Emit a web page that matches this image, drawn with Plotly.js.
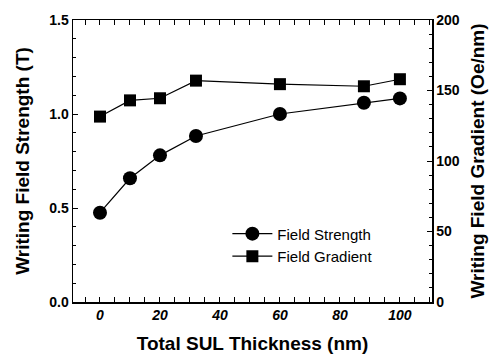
<!DOCTYPE html>
<html><head><meta charset="utf-8">
<script src="https://cdn.plot.ly/plotly-3.0.1.min.js"></script>
<style>body{margin:0;background:#fff}#c{width:492px;height:363px}</style>
</head><body><div id="c"></div>
<script>
const thickness = [0, 10, 20, 32, 60, 88, 100];
const fieldStrength = [0.475, 0.658, 0.78, 0.883, 1.0, 1.06, 1.083];
const gradThickness = [0, 10, 20, 32, 60, 88, 100];
const fieldGradient = [131.5, 143, 144.5, 157, 154.5, 153, 158];
const xTicks = [0, 20, 40, 60, 80, 100];
const yTicks = [0.0, 0.5, 1.0, 1.5];
const yTickLabels = ['0.0', '0.5', '1.0', '1.5'];
const y2Ticks = [0, 50, 100, 150, 200];

const F = 'Liberation Sans, Arial, sans-serif';
const data = [
  {x: thickness, y: fieldStrength, name: 'Field Strength', type: 'scatter', mode: 'lines+markers',
   line: {color: '#000', width: 1.2}, marker: {symbol: 'circle', size: 14, color: '#000'}},
  {x: gradThickness, y: fieldGradient, name: 'Field Gradient', type: 'scatter', mode: 'lines+markers', yaxis: 'y2',
   line: {color: '#000', width: 1.2}, marker: {symbol: 'square', size: 12, color: '#000'}}
];
const layout = {
  width: 492, height: 363,
  margin: {l: 73, r: 60, t: 20, b: 61},
  paper_bgcolor: '#fff', plot_bgcolor: '#fff',
  showlegend: true,
  legend: {x: 0.43, y: 0.30, xanchor: 'left', yanchor: 'top', bgcolor: 'rgba(0,0,0,0)',
           font: {family: F, size: 15, color: '#000'}, tracegroupgap: 0, itemwidth: 40},
  xaxis: {range: [-9, 110.7], tickvals: xTicks, ticktext: xTicks.map(String),
          ticks: 'inside', ticklen: 5, tickwidth: 1, tickcolor: '#000',
          minor: {dtick: 5, tick0: 0, ticks: 'inside', ticklen: 3, tickcolor: '#000'},
          showline: true, linecolor: '#000', linewidth: 1.5, mirror: 'allticks',
          showgrid: false, zeroline: false,
          tickfont: {family: F, size: 14, color: '#000', weight: 'bold', style: 'italic'},
          title: {text: 'Total SUL Thickness (nm)', font: {family: F, size: 19, color: '#000', weight: 'bold'}, standoff: 14}},
  yaxis: {range: [0, 1.5], tickvals: yTicks, ticktext: yTickLabels,
          ticks: 'inside', ticklen: 5, tickwidth: 1, tickcolor: '#000',
          minor: {dtick: 0.1, ticks: 'inside', ticklen: 3, tickcolor: '#000'},
          showline: true, linecolor: '#000', linewidth: 1.5, mirror: false,
          showgrid: false, zeroline: false,
          tickfont: {family: F, size: 14, color: '#000', weight: 'bold'},
          title: {text: 'Writing Field Strength (T)', font: {family: F, size: 19, color: '#000', weight: 'bold'}, standoff: 14}},
  yaxis2: {range: [0, 200], overlaying: 'y', side: 'right', tickvals: y2Ticks,
          ticks: 'inside', ticklen: 5, tickwidth: 1, tickcolor: '#000',
          minor: {dtick: 10, ticks: 'inside', ticklen: 3, tickcolor: '#000'},
          showline: true, linecolor: '#000', linewidth: 1.5,
          showgrid: false, zeroline: false,
          tickfont: {family: F, size: 14, color: '#000', weight: 'bold'},
          title: {text: 'Writing Field Gradient (Oe/nm)', font: {family: F, size: 19, color: '#000', weight: 'bold'}, standoff: 12}}
};
Plotly.newPlot('c', data, layout, {staticPlot: true, displayModeBar: false});
</script></body></html>
